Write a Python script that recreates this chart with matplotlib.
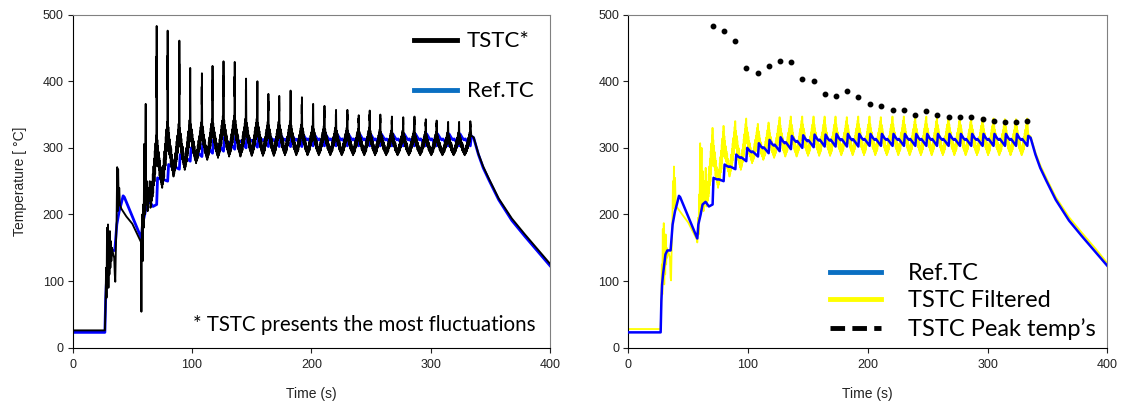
import matplotlib
matplotlib.use("Agg")
import matplotlib.pyplot as plt
from matplotlib.lines import Line2D

# --- values ---

# start-up part (before the regular cycles)
early_t = [0, 27, 27.5, 28, 28.4, 28.8, 29.2, 29.6, 30, 30.4,
           30.8, 31.2, 31.6, 32, 32.4, 33, 34, 34.8, 35.3, 35.7,
           36.2, 36.8, 37.3, 37.7, 38.1, 38.6, 39, 39.6, 41, 45,
           50, 57.4, 57.6, 57.8, 58.3, 58.7, 59.1, 59.5, 60, 60.4,
           61.2, 61.6, 62.2, 62.8, 63.4, 64, 64.6, 65.2, 65.8]
early_tstc = [26, 26, 60, 120, 75, 180, 100, 185, 90, 170,
              110, 175, 120, 160, 130, 150, 140, 135, 110, 99,
              150, 190, 271, 205, 268, 215, 240, 214, 208, 197,
              186, 158, 54, 160, 200, 130, 215, 180, 306, 200,
              366, 215, 250, 205, 240, 220, 250, 210, 215]
early_filt = [28, 28, 65, 125, 80, 178, 100, 187, 95, 165,
              110, 170, 125, 150, 135, 145, 140, 135, 105, 101,
              150, 190, 250, 210, 272, 215, 255, 212, 210, 200,
              188, 162, 158, 165, 195, 170, 230, 200, 307, 205,
              300, 215, 265, 205, 250, 218, 270, 212, 215]

ref_early_t = [0, 27, 27.6, 28.2, 29, 30, 31, 32.6, 35.3, 37,
               39, 40.5, 42.3, 43.3, 57.6, 58.5, 60.4, 62, 64.5, 67.3]
ref_early = [23, 23, 70, 95, 110, 125, 140, 146, 146, 185,
             205, 215, 228, 226, 164, 185, 200, 215, 219, 212]

# one entry per heating pulse
peak_t = [70.4, 79.6, 89.4, 98.5, 108.3, 117.2, 126.4, 135.8, 145.3, 154.8,
          164.0, 173.1, 182.6, 192.1, 201.5, 211.0, 220.7, 230.2, 239.7, 248.9,
          257.8, 267.5, 277.0, 286.4, 295.9, 305.0, 314.6, 323.8, 333.2]
peak_T = [483, 476, 461, 420, 412, 423, 430, 429, 404, 400,
          381, 378, 386, 376, 366, 363, 357, 357, 349, 356,
          350, 347, 346, 347, 343, 341, 339, 339, 340]
fill_top = [330, 350, 345, 350, 345, 350, 355, 355, 350, 350,
            345, 345, 345, 340, 338, 338, 335, 335, 333, 335,
            332, 330, 330, 330, 328, 328, 327, 327, 327]
trough_T = [215, 240, 257, 267, 277, 282, 285, 287, 287, 288,
            288, 288, 289, 289, 289, 289, 289, 289, 289, 289,
            289, 289, 289, 289, 289, 289, 289, 289, 289]
filt_top = [330, 333, 340, 344, 336, 338, 346, 347, 347, 347,
            347, 347, 346, 347, 347, 346, 347, 347, 346, 347,
            346, 347, 346, 345, 345, 344, 343, 343, 344]
ref_low = [215, 250, 268, 280, 287, 292, 295, 298, 300, 301,
           302, 302, 302, 302, 303, 303, 303, 303, 303, 303,
           303, 303, 303, 303, 303, 303, 303, 303, 303]
ref_high = [255, 275, 290, 300, 307, 312, 316, 318, 319, 320,
            320, 321, 321, 321, 321, 321, 321, 321, 321, 321,
            321, 321, 321, 321, 321, 321, 321, 321, 318]

# shape of one pulse (phase within the pulse, share of the swing), read from a typical cycle
post_u = [0.03, 0.06, 0.09, 0.12, 0.15, 0.18, 0.21, 0.24, 0.27, 0.30,
          0.33, 0.36, 0.39, 0.42, 0.45, 0.48, 0.5]
post_f = [0.55, 0.8, 0.45, 0.7, 0.35, 0.6, 0.3, 0.5, 0.2, 0.45,
          0.15, 0.35, 0.1, 0.25, 0.05, 0.15, 0.0]
pre_u = [0.53, 0.56, 0.59, 0.62, 0.65, 0.68, 0.71, 0.74, 0.77, 0.8,
         0.83, 0.86, 0.89, 0.92, 0.94, 0.96, 0.975]
pre_f = [0.2, 0.05, 0.3, 0.1, 0.4, 0.15, 0.5, 0.25, 0.6, 0.3,
         0.7, 0.4, 0.8, 0.5, 0.9, 0.55, 1.0]
# secondary spike just before the main one (share of the peak swing)
twin_u = [0.985, 0.992]
twin_f = [0.7, 0.3]
ref_u = [0.08, 0.3, 0.45, 0.55, 0.8]
ref_f = [1.0, 0.65, 0.5, 0.58, 0.25]

# cooling after the last pulse
cool_t = [334, 336, 340, 344, 349, 357, 368, 379, 390, 400]
cool_ref = [318, 315, 290, 270, 251, 222, 191, 167, 144, 123]
cool_tstc = [318, 316, 291, 272, 253, 224, 194, 170, 147, 126]
cool_filt = [320, 317, 293, 274, 255, 226, 196, 172, 149, 127]


def pulse_series(t0, y0, peaks, tops, t1, y1):
    t, y = list(t0), list(y0)
    n = len(peak_t)
    for k in range(n):
        if k == 0:
            prev = peak_t[0] - (peak_t[1] - peak_t[0])
        else:
            prev = peak_t[k - 1]
            for u, f in zip(post_u, post_f):
                t.append(prev + u * (peak_t[k] - prev))
                y.append(trough_T[k] + f * (tops[k - 1] - trough_T[k]))
        for u, f in zip(pre_u, pre_f):
            t.append(prev + u * (peak_t[k] - prev))
            y.append(trough_T[k] + f * (tops[k] - trough_T[k]))
        for u, f in zip(twin_u, twin_f):
            t.append(prev + u * (peak_t[k] - prev))
            y.append(tops[k] + f * (peaks[k] - tops[k]))
        t.append(peak_t[k])
        y.append(peaks[k])
    return t + list(t1), y + list(y1)


def ref_series():
    t, y = list(ref_early_t), list(ref_early)
    n = len(peak_t)
    for k in range(n):
        t.append(peak_t[k])
        y.append(ref_low[k])
        if k < n - 1:
            for u, f in zip(ref_u, ref_f):
                t.append(peak_t[k] + u * (peak_t[k + 1] - peak_t[k]))
                y.append(ref_low[k + 1] + f * (ref_high[k] - ref_low[k + 1]))
    return t + cool_t, y + cool_ref


tstc_t, tstc_y = pulse_series(early_t, early_tstc, peak_T, fill_top, cool_t, cool_tstc)
filt_t, filt_y = pulse_series(early_t, early_filt, filt_top, filt_top, cool_t, cool_filt)
ref_t, ref_y = ref_series()

plt.rcParams['font.family'] = ['Liberation Sans', 'DejaVu Sans']

fig = plt.figure(figsize=(11.23, 4.04), dpi=100)
ax1 = fig.add_axes([0.0647, 0.1394, 0.4251, 0.8243])
ax2 = fig.add_axes([0.5595, 0.1394, 0.4265, 0.8243])

for ax in (ax1, ax2):
    ax.set_xlim(0, 400)
    ax.set_ylim(0, 500)
    ax.set_xticks([0, 100, 200, 300, 400])
    ax.set_yticks([0, 100, 200, 300, 400, 500])
    ax.tick_params(direction='out', length=3.5, width=0.8, labelsize=9, pad=3, colors='#222222')
    ax.tick_params(axis='x', pad=5)
    ax.spines['top'].set_color('#808080')
    ax.spines['right'].set_color('#808080')
    ax.set_xlabel('Time (s)', fontsize=10, labelpad=11, color='#222222')

# left chart
ax1.plot(ref_t, ref_y, color='#0000ff', lw=2.0, zorder=2)
ax1.plot(tstc_t, tstc_y, color='black', lw=1.35, zorder=3)
ax1.set_ylabel('Temperature [ °C]', fontsize=10, labelpad=11, color='#222222')
h1 = [Line2D([], [], color='black', lw=3.5), Line2D([], [], color='#0a6fc2', lw=3.5)]
ax1.legend(h1, ['TSTC*', 'Ref.TC'], loc='upper right', bbox_to_anchor=(1.0, 1.0),
           frameon=False, prop={'family': 'Lato', 'size': 16}, handlelength=1.9,
           labelspacing=1.35, borderpad=0.25, handletextpad=0.45)
ax1.text(100.5, 34, '* TSTC presents the most fluctuations', fontsize=14.8,
         family='Lato', va='center', ha='left')

# right chart
ax2.plot(filt_t, filt_y, color='#ffff00', lw=1.3, zorder=2)
ax2.plot(ref_t, ref_y, color='#0000ff', lw=1.8, zorder=3)
ax2.plot(peak_t, peak_T, 'o', color='black', ms=3.2, zorder=4)
h2 = [Line2D([], [], color='#0a6fc2', lw=3.5), Line2D([], [], color='#ffff00', lw=3.5),
      Line2D([], [], color='black', lw=3.5, ls=(0, (3, 1.5)))]
ax2.legend(h2, ['Ref.TC', 'TSTC Filtered', 'TSTC Peak temp\u2019s'], loc='lower right',
           bbox_to_anchor=(1.0, -0.012), frameon=False, prop={'family': 'Lato', 'size': 17},
           handlelength=2.15, labelspacing=0.28, borderpad=0.0, handletextpad=1.15)

fig.savefig('out.png', dpi=100)
